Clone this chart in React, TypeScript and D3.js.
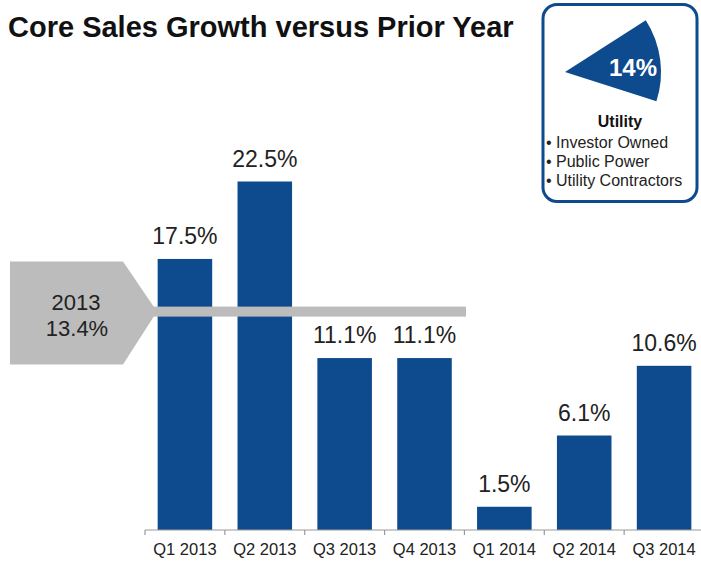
import React from "react";
import * as d3 from "d3";

const categories = ["Q1 2013", "Q2 2013", "Q3 2013", "Q4 2013", "Q1 2014", "Q2 2014", "Q3 2014"];
const growth = [17.5, 22.5, 11.1, 11.1, 1.5, 6.1, 10.6];
const valueLabels = ["17.5%", "22.5%", "11.1%", "11.1%", "1.5%", "6.1%", "10.6%"];
const avgYear = "2013";
const avgLabel = "13.4%";
const avgLineLevel = 14.1; // level of the grey band as drawn
const segmentShare = 0.14;
const segmentName = "Utility";
const segmentItems = ["Investor Owned", "Public Power", "Utility Contractors"];

const W = 701;
const H = 563;
const BLUE = "#0d4a8e";
const GREY = "#bcbcbc";
const FONT = "'Liberation Sans', Arial, Helvetica, sans-serif";

export default function App() {
  const x = d3
    .scaleBand<string>()
    .domain(categories)
    .range([145, 704])
    .paddingInner(0.317)
    .paddingOuter(0.1585);
  const y = d3.scaleLinear().domain([0, 22.5]).range([530, 181.5]);
  const step = x.step();
  const half = (step * x.paddingInner()) / 2;
  const boundaries = categories.map((c) => (x(c) as number) - half).concat([(x(categories[6]) as number) + x.bandwidth() + half]);

  const yAvg = y(avgLineLevel);
  const arrow = d3.line()([
    [10, yAvg - 50],
    [123, yAvg - 50],
    [157, yAvg],
    [123, yAvg + 53],
    [10, yAvg + 53],
  ]) + "Z";

  const cx = 565, cy = 72, r = 96;
  const mid = (82.5 * Math.PI) / 180;
  const span = segmentShare * 2 * Math.PI;
  const wedge = d3.arc()({
    innerRadius: 0,
    outerRadius: r,
    startAngle: mid - span / 2,
    endAngle: mid + span / 2,
  } as any) as string;

  return (
    <svg width={W} height={H} style={{ position: "absolute", left: 0, top: 0, background: "#fff" }} fontFamily={FONT}>
      <rect x={0} y={0} width={W} height={H} fill="#fff" />
      <text x={8} y={37} fontSize={29} fontWeight="bold" fill="#111">
        Core Sales Growth versus Prior Year
      </text>

      {/* bars */}
      {categories.map((c, i) => (
        <rect key={c} x={x(c)} y={y(growth[i])} width={x.bandwidth()} height={y(0) - y(growth[i])} fill={BLUE} />
      ))}

      {/* average arrow + line */}
      <path d={arrow} fill={GREY} />
      <rect x={150} y={yAvg - 5} width={316} height={10} fill={GREY} />
      <text x={76} y={yAvg - 2} fontSize={22} textAnchor="middle" fill="#222">
        {avgYear}
      </text>
      <text x={77} y={yAvg + 24} fontSize={22} textAnchor="middle" fill="#222">
        {avgLabel}
      </text>

      {/* value labels */}
      {categories.map((c, i) => (
        <text
          key={c}
          x={(x(c) as number) + x.bandwidth() / 2}
          y={y(growth[i]) - 15}
          fontSize={23}
          textAnchor="middle"
          fill="#222"
        >
          {valueLabels[i]}
        </text>
      ))}

      {/* axis */}
      <line x1={145} x2={W} y1={y(0)} y2={y(0)} stroke="#999" strokeWidth={1.2} />
      {boundaries.map((b, i) => (
        <line key={i} x1={b} x2={b} y1={y(0)} y2={y(0) + 5} stroke="#999" strokeWidth={1.2} />
      ))}
      {categories.map((c) => (
        <text key={c} x={(x(c) as number) + x.bandwidth() / 2} y={555} fontSize={16.5} textAnchor="middle" fill="#222">
          {c}
        </text>
      ))}

      {/* inset */}
      <rect x={543} y={4.5} width={154} height={197} rx={14} fill="#fff" stroke={BLUE} strokeWidth={3} />
      <path d={wedge} transform={`translate(${cx},${cy})`} fill={BLUE} />
      <text x={633} y={76} fontSize={24} fontWeight="bold" textAnchor="middle" fill="#fff">
        {Math.round(segmentShare * 100)}%
      </text>
      <text x={620} y={127} fontSize={16} fontWeight="bold" textAnchor="middle" fill="#111">
        {segmentName}
      </text>
      {segmentItems.map((s, i) => (
        <text key={s} x={546} y={148 + i * 19} fontSize={16} fill="#222">
          {"\u2022 " + s}
        </text>
      ))}
    </svg>
  );
}
